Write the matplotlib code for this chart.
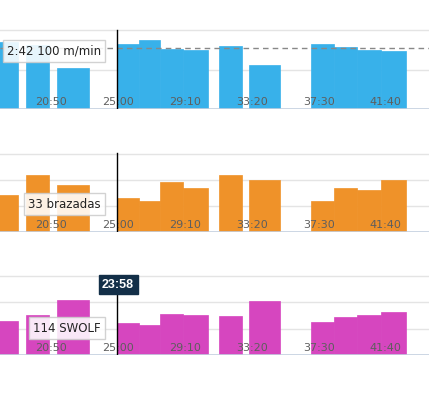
import matplotlib.pyplot as plt

# laps (seconds from start of session)
lap_start = [985, 1097, 1213, 1438, 1519, 1597, 1683, 1817, 1929, 2160, 2246, 2332, 2421]
lap_time = [81, 86, 119, 81, 78, 86, 93, 86, 116, 86, 86, 89, 94]
speed = [37.0, 36.2, 30.4, 36.5, 37.5, 35.2, 34.9, 35.9, 31.1, 36.5, 35.7, 34.9, 34.7]  # m/min
strokes = [36, 55, 45, 33, 30, 48, 42, 55, 50, 30, 42, 40, 50]
swolf = [116, 120, 131.5, 114, 112.6, 121, 120, 119.4, 130.8, 115, 118.7, 120, 122.5]
avg_speed = 35.4

tick_pos = [1250, 1500, 1750, 2000, 2250, 2500]
tick_lbl = ["20:50", "25:00", "29:10", "33:20", "37:30", "41:40"]
cursor_t = 1438
cursor_lbl = "23:58"
tips = ["2:42 100 m/min", "33 brazadas", "114 SWOLF"]

W, H = 429, 398
fig = plt.figure(figsize=(W / 100, H / 100), dpi=100)

# baseline pixel (from top), ylim, gridlines, colour, tooltip y (px from top)
panels = [
    (109, (20, 40.76), [30, 40], speed, "#38b1ea", 51),
    (232, (0, 78.8), [25, 50, 75], strokes, "#ef9229", 204),
    (355, (90, 151.9), [110, 130, 150], swolf, "#d646bf", 328),
]
axh = 82

for i, (base, ylim, grid, vals, col, tip_y) in enumerate(panels):
    ax = fig.add_axes([0, 1 - base / H, 1, axh / H])
    ax.set_xlim(1000, 2600)
    ax.set_ylim(*ylim)
    for g in grid:
        ax.axhline(g, color="#e4e4e4", lw=1, zorder=0)
    ax.axhline(ylim[0], color="#c3cfdf", lw=1.2, zorder=3)
    ax.bar(lap_start, vals, width=lap_time, align="edge", color=col,
           edgecolor=col, lw=0.5, zorder=2)
    if i == 0:
        ax.axhline(avg_speed, color="#888888", lw=1, ls=(0, (4, 3)), zorder=3)
    for t, lbl in zip(tick_pos, tick_lbl):
        ax.annotate(lbl, (t, 0), xycoords=("data", "axes fraction"),
                    xytext=(-0.5, 7), textcoords="offset pixels",
                    ha="right", va="center", fontsize=8, color="#5e5e5e", zorder=4)
    top = 0.963 if i < 2 else (base - 294) / axh
    ax.axvline(cursor_t, ymin=0, ymax=top, color="black", lw=1, zorder=5)
    ax.axis("off")

    fig.text(101 / W, 1 - tip_y / H, tips[i], ha="right", va="center",
             fontsize=8.5, color="#222222", zorder=10,
             bbox=dict(boxstyle="square,pad=0.35", fc="white", ec="#cccccc",
                       alpha=0.88, lw=1))

fig.text(118 / W, 1 - 284.5 / H, cursor_lbl, ha="center", va="center",
         fontsize=9, fontweight="bold", color="white", family="Liberation Sans",
         bbox=dict(boxstyle="square,pad=0.28", fc="#132f48", ec="#132f48"))

fig.savefig("out.png", dpi=100)
